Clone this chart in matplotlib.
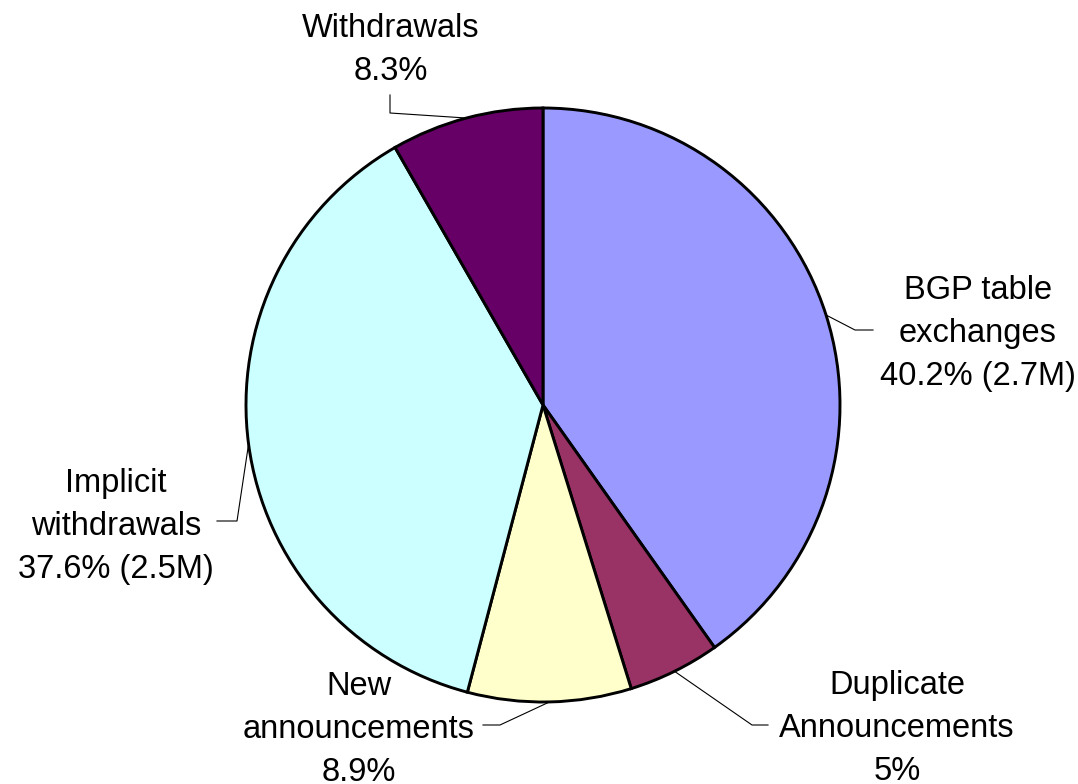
import matplotlib
matplotlib.use("Agg")
import matplotlib.pyplot as plt
import numpy as np

# ---- data ----
categories = ["BGP table\nexchanges", "Duplicate\nAnnouncements", "New\nannouncements",
              "Implicit\nwithdrawals", "Withdrawals"]
shares = [40.2, 5.0, 8.9, 37.6, 8.3]
share_text = ["40.2%", "5%", "8.9%", "37.6%", "8.3%"]
counts = ["2.7M", None, None, "2.5M", None]
colors = ["#9999FF", "#993366", "#FFFFCC", "#CCFFFF", "#660066"]

W, H = 1078, 784
plt.rcParams['font.family'] = ['Liberation Sans', 'DejaVu Sans']

fig = plt.figure(figsize=(W / 100, H / 100), dpi=100)
ax = fig.add_axes([0, 0, 1, 1])

def Y(y):
    return H - y

cx, cy, R = 543, Y(405), 297
wedges, _ = ax.pie(shares, colors=colors, startangle=90, counterclock=False,
                   center=(cx, cy), radius=R,
                   wedgeprops=dict(edgecolor="black", linewidth=2.1))
ax.set_xlim(0, W)
ax.set_ylim(0, H)
ax.set_aspect("equal")
ax.axis("off")

# label layout: (text center x, last-line baseline y) and leader elbow points (pixel coords)
label_pos = [(978, 385), (897, 780), (359, 781), (116, 578), (391, 80)]
leader_pts = [
    [(855, 330), (873, 330)],
    [(752, 725), (768, 725)],
    [(500, 725), (483, 725)],
    [(237, 521), (217, 521)],
    [(390, 113), (390, 95)],
]

for i, w in enumerate(wedges):
    pct = share_text[i]
    txt = categories[i] + "\n" + pct + (f" ({counts[i]})" if counts[i] else "")
    tx, ty = label_pos[i]
    ax.text(tx, Y(ty), txt, ha="center", va="baseline", fontsize=23.5,
            linespacing=1.5, multialignment="center", color="black")
    mid = np.deg2rad((w.theta1 + w.theta2) / 2)
    x0 = cx + R * np.cos(mid)
    y0 = cy + R * np.sin(mid)
    xs = [x0] + [p[0] for p in leader_pts[i]]
    ys = [y0] + [Y(p[1]) for p in leader_pts[i]]
    ax.plot(xs, ys, color="black", linewidth=0.8, zorder=0.5)

fig.savefig("out.png", dpi=100, facecolor="white")
